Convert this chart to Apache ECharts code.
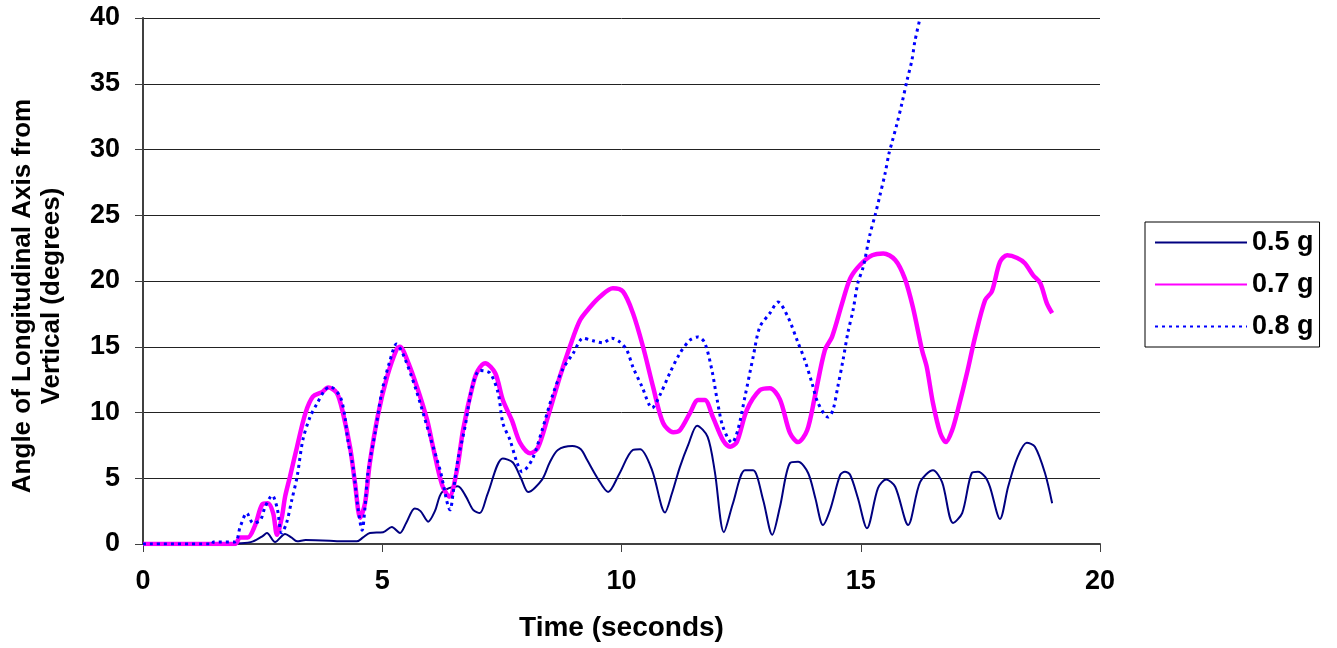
<!DOCTYPE html>
<html>
<head>
<meta charset="utf-8">
<script src="https://cdn.jsdelivr.net/npm/echarts@6/dist/echarts.min.js"></script>
<style>
html,body{margin:0;padding:0;background:#fff;}
#chart{width:1337px;height:648px;}
</style>
</head>
<body>
<div id="chart"></div>
<script>
// ---- data ----
const xTicks = [0, 5, 10, 15, 20];
const yTicks = [0, 5, 10, 15, 20, 25, 30, 35, 40];
const seriesNames = ['0.5 g', '0.7 g', '0.8 g'];

const t05 = [0, 1.5, 2.05, 2.3, 2.5, 2.59, 2.76, 2.97, 3.1, 3.22, 3.4, 3.9, 4.1, 4.3, 4.47, 4.6, 4.74, 5.02, 5.2, 5.37, 5.5, 5.68, 5.8, 5.96, 6.1, 6.25, 6.58, 6.75, 6.9, 7.04, 7.2, 7.52, 7.73, 7.9, 8.05, 8.34, 8.5, 8.67, 8.97, 9.15, 9.28, 9.5, 9.72, 9.95, 10.24, 10.39, 10.64, 10.91, 11.05, 11.22, 11.4, 11.58, 11.8, 11.95, 12.14, 12.33, 12.58, 12.75, 12.96, 13.15, 13.31, 13.52, 13.69, 13.9, 14.05, 14.21, 14.36, 14.57, 14.67, 14.78, 14.94, 15.13, 15.36, 15.53, 15.72, 15.99, 16.24, 16.51, 16.7, 16.93, 17.12, 17.32, 17.45, 17.6, 17.7, 17.91, 18.08, 18.27, 18.47, 18.64, 18.85, 19.0];
const v05 = [0, 0, 0.05, 0.2, 0.6, 0.84, 0.15, 0.76, 0.5, 0.2, 0.3, 0.25, 0.2, 0.2, 0.2, 0.5, 0.84, 0.9, 1.3, 0.84, 1.6, 2.7, 2.5, 1.7, 2.5, 3.95, 4.4, 3.6, 2.6, 2.35, 3.8, 6.5, 6.2, 5.0, 3.95, 4.9, 6.2, 7.15, 7.45, 7.2, 6.4, 5.0, 3.95, 5.3, 7.15, 7.2, 5.6, 2.4, 3.8, 5.85, 7.6, 9.0, 8.15, 5.5, 0.9, 3.1, 5.6, 5.6, 3.35, 0.7, 2.8, 6.15, 6.25, 5.4, 3.5, 1.45, 2.6, 5.25, 5.5, 5.25, 3.5, 1.2, 4.25, 4.9, 4.35, 1.45, 4.7, 5.6, 4.7, 1.6, 2.35, 5.4, 5.5, 5.1, 4.35, 1.9, 4.35, 6.55, 7.7, 7.4, 5.4, 3.1];

const t07 = [0, 1.92, 2.03, 2.19, 2.34, 2.49, 2.61, 2.72, 2.8, 2.9, 2.97, 3.07, 3.22, 3.39, 3.55, 3.74, 3.87, 4.05, 4.18, 4.33, 4.43, 4.54, 4.64, 4.74, 4.91, 5.1, 5.3, 5.37, 5.52, 5.73, 5.94, 6.06, 6.25, 6.4, 6.56, 6.69, 6.9, 7.0, 7.15, 7.36, 7.52, 7.71, 7.88, 8.09, 8.25, 8.46, 8.71, 8.92, 9.13, 9.34, 9.55, 9.82, 10.03, 10.24, 10.45, 10.66, 10.87, 11.08, 11.22, 11.43, 11.6, 11.74, 11.91, 12.12, 12.27, 12.41, 12.62, 12.89, 13.1, 13.31, 13.52, 13.69, 13.88, 14.04, 14.25, 14.4, 14.61, 14.78, 14.98, 15.24, 15.47, 15.72, 15.92, 16.09, 16.28, 16.38, 16.51, 16.66, 16.78, 16.91, 17.03, 17.22, 17.39, 17.6, 17.74, 17.91, 18.06, 18.27, 18.43, 18.6, 18.75, 18.89, 19.0];
const v07 = [0, 0, 0.5, 0.5, 1.4, 3.0, 3.1, 2.35, 0.7, 2.0, 3.6, 5.1, 7.4, 9.9, 11.2, 11.55, 11.9, 11.5, 9.95, 7.3, 4.65, 2.0, 3.1, 6.15, 9.8, 12.7, 14.8, 15.0, 14.0, 11.9, 9.4, 7.4, 4.5, 3.6, 5.6, 8.7, 12.2, 13.2, 13.75, 13.0, 10.95, 9.4, 7.7, 6.9, 7.3, 9.65, 12.7, 15.0, 17.0, 18.0, 18.8, 19.45, 19.2, 17.55, 15.0, 11.95, 9.2, 8.5, 8.65, 9.95, 10.95, 10.95, 9.65, 7.9, 7.4, 7.75, 10.2, 11.7, 11.85, 11.0, 8.45, 7.75, 8.65, 11.2, 14.75, 15.75, 18.3, 20.2, 21.2, 21.95, 22.1, 21.6, 20.2, 18.0, 14.75, 13.45, 10.7, 8.45, 7.75, 8.65, 10.2, 13.0, 15.75, 18.55, 19.2, 21.45, 21.95, 21.75, 21.35, 20.45, 19.85, 18.3, 17.55];

const t08 = [0, 1.45, 1.47, 1.92, 2.03, 2.17, 2.3, 2.45, 2.55, 2.7, 2.8, 2.9, 3.0, 3.11, 3.22, 3.34, 3.49, 3.64, 3.8, 3.91, 4.12, 4.22, 4.28, 4.39, 4.49, 4.58, 4.64, 4.7, 4.85, 4.99, 5.15, 5.3, 5.45, 5.7, 6.0, 6.21, 6.42, 6.48, 6.58, 6.73, 6.88, 7.04, 7.25, 7.42, 7.52, 7.67, 7.82, 7.92, 8.13, 8.34, 8.55, 8.76, 8.99, 9.2, 9.41, 9.61, 9.8, 9.97, 10.11, 10.24, 10.43, 10.64, 10.8, 11.01, 11.22, 11.43, 11.6, 11.74, 11.89, 12.0, 12.12, 12.31, 12.43, 12.58, 12.75, 12.89, 13.1, 13.27, 13.48, 13.69, 13.83, 13.98, 14.11, 14.32, 14.42, 14.52, 14.63, 14.73, 14.84, 14.94, 15.05, 15.19, 15.3, 15.4, 15.51, 15.59, 15.65, 15.76, 15.86, 15.97, 16.07, 16.13, 16.24];
const v08 = [0, 0, 0.15, 0.15, 1.3, 2.35, 1.6, 1.8, 2.8, 3.7, 2.8, 0.84, 1.6, 3.35, 5.1, 7.9, 9.65, 10.7, 11.7, 11.95, 11.2, 9.65, 7.9, 5.85, 2.8, 1.05, 2.8, 5.4, 8.45, 11.55, 13.8, 15.2, 14.3, 11.8, 8.15, 5.6, 2.6, 3.85, 6.4, 8.9, 11.95, 13.2, 13.0, 11.5, 9.2, 7.9, 6.15, 5.5, 6.4, 8.65, 11.2, 13.2, 14.5, 15.65, 15.45, 15.3, 15.65, 15.35, 14.75, 13.45, 11.95, 10.35, 11.3, 13.0, 14.5, 15.5, 15.75, 15.3, 13.2, 10.95, 8.9, 7.7, 8.65, 11.2, 14.2, 16.5, 17.55, 18.4, 17.25, 15.3, 14.0, 12.25, 10.7, 9.65, 10.2, 11.95, 14.0, 16.05, 17.8, 19.85, 21.05, 23.5, 25.0, 26.5, 28.2, 29.7, 30.5, 32.0, 33.5, 35.3, 36.8, 38.2, 40.0];

const zip = (t, v) => t.map((x, i) => [x, v[i]]);

const FONT = '"Liberation Sans", Arial, sans-serif';
const chart = echarts.init(document.getElementById('chart'), null, {renderer: 'canvas'});
chart.setOption({
  animation: false,
  backgroundColor: '#ffffff',
  grid: {left: 143, right: 237, top: 18, bottom: 104, containLabel: false, outerBoundsMode: 'none'},
  legend: {
    orient: 'vertical',
    left: 1145, top: 222,
    padding: [7, 6, 7, 9],
    itemWidth: 92, itemHeight: 14, itemGap: 15,
    borderColor: '#000', borderWidth: 1,
    backgroundColor: '#fff',
    itemStyle: {opacity: 0},
    textStyle: {fontFamily: FONT, fontWeight: 'bold', fontSize: 27, color: '#000'},
    data: seriesNames
  },
  xAxis: {
    type: 'value', min: xTicks[0], max: xTicks[xTicks.length - 1], interval: 5,
    name: 'Time (seconds)', nameLocation: 'middle', nameGap: 70,
    nameTextStyle: {fontFamily: FONT, fontWeight: 'bold', fontSize: 28, color: '#000'},
    axisLine: {lineStyle: {color: '#404040', width: 2}},
    axisTick: {show: true, length: 8, lineStyle: {color: '#404040', width: 1}},
    axisLabel: {fontFamily: FONT, fontWeight: 'bold', fontSize: 27, color: '#000', margin: 24},
    splitLine: {show: false}
  },
  yAxis: {
    type: 'value', min: yTicks[0], max: yTicks[yTicks.length - 1], interval: 5,
    name: 'Angle of Longitudinal Axis from\nVertical (degrees)', nameLocation: 'middle', nameGap: 77,
    nameTextStyle: {fontFamily: FONT, fontWeight: 'bold', fontSize: 26, color: '#000', lineHeight: 29, padding: [0, 30, 0, 0]},
    axisLine: {show: true, lineStyle: {color: '#404040', width: 2}},
    axisTick: {show: true, length: 8, lineStyle: {color: '#404040', width: 1}},
    axisLabel: {fontFamily: FONT, fontWeight: 'bold', fontSize: 27, color: '#000', margin: 23},
    splitLine: {show: true, lineStyle: {color: '#222', width: 1}}
  },
  series: [
    {name: seriesNames[0], type: 'line', data: zip(t05, v05), symbol: 'none', smooth: 0.3, clip: true,
     lineStyle: {color: '#000080', width: 2}, itemStyle: {color: '#000080'}},
    {name: seriesNames[1], type: 'line', data: zip(t07, v07), symbol: 'none', smooth: 0.3, clip: true,
     lineStyle: {color: '#ff00ff', width: 4.5}, itemStyle: {color: '#ff00ff'}},
    {name: seriesNames[2], type: 'line', data: zip(t08, v08), symbol: 'none', smooth: 0.3, clip: true,
     lineStyle: {color: '#0000ff', width: 3, type: [3, 4]}, itemStyle: {color: '#0000ff'}}
  ]
});
</script>
</body>
</html>
